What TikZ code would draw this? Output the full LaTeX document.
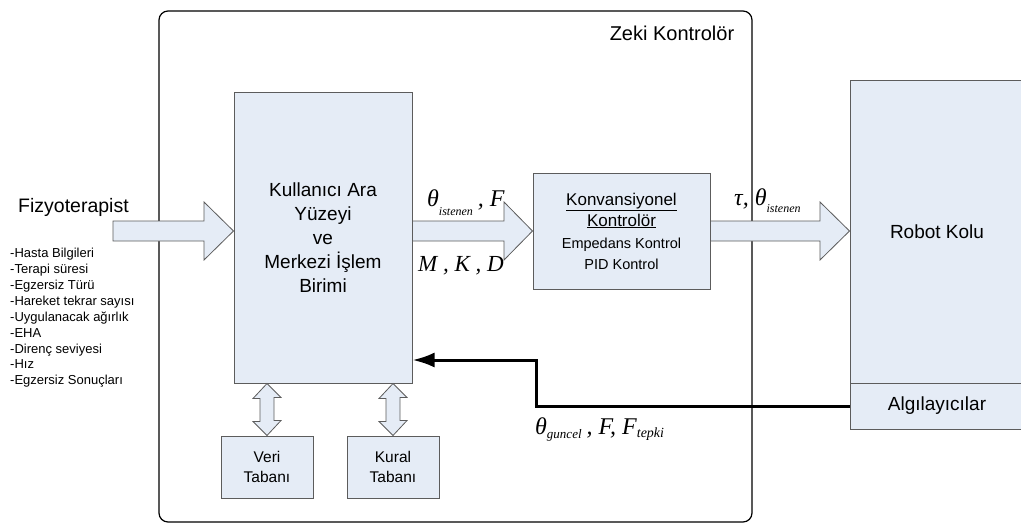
\documentclass[tikz,border=0pt]{standalone}
\usepackage{fontspec}
\setmainfont{Liberation Sans}
\newfontfamily\tms{Liberation Serif}
\usetikzlibrary{arrows.meta,calc}
\definecolor{boxfill}{HTML}{E5ECF6}
\definecolor{boxline}{HTML}{5C5C5C}
\begin{document}
\begin{tikzpicture}[x=1pt,y=-1pt,
  block/.style={draw=boxline,line width=1pt,fill=boxfill,inner sep=0pt,align=center},
  barrow/.style={draw=boxline,line width=0.8pt,fill=boxfill,line join=miter},
  bigtext/.style={font=\fontsize{19}{24}\selectfont},
  formula/.style={inner sep=0pt,font=\tms\itshape},
  feedback/.style={line width=3pt,-{Latex[length=22pt,width=15pt]}}
]
\useasboundingbox (0,0) rectangle (1021,523);
\clip (0,0) rectangle (1021,523);

% intelligent controller frame
\draw[line width=1.2pt,rounded corners=9pt] (159,11) rectangle (752,522);
\node[inner sep=0pt,font=\fontsize{20}{24}\selectfont] (zeki) at (672,33) {Zeki Kontrolör};

% physiotherapist input
\node[inner sep=0pt,anchor=west,font=\fontsize{19.5}{24}\selectfont] (fizyo) at (18,207) {Fizyoterapist};
\node[inner sep=0pt,anchor=north west,align=left,font=\fontsize{13}{15.9}\selectfont] (liste) at (10,248)
  {-Hasta Bilgileri\\-Terapi süresi\\-Egzersiz Türü\\-Hareket tekrar sayısı\\-Uygulanacak ağırlık\\-EHA\\-Direnç seviyesi\\-Hız\\-Egzersiz Sonuçları};

% blocks
\node[block,bigtext,minimum width=178pt,minimum height=291pt] (main) at (323,237.5)
  {Kullanıcı Ara\\Yüzeyi\\ve\\Merkezi İşlem\\Birimi};
\node[block,minimum width=177pt,minimum height=116pt,font=\fontsize{17}{21}\selectfont] (konv) at (621.5,231)
  {\underline{Konvansiyonel}\\\underline{Kontrolör}\\[1pt]
   {\fontsize{14.5}{16}\selectfont Empedans Kontrol}\\{\fontsize{14.5}{16}\selectfont PID Kontrol}};
\node[block,font=\fontsize{15.5}{20}\selectfont,minimum width=92pt,minimum height=62pt] (veri) at (267,467) {Veri\\Tabanı};
\node[block,font=\fontsize{15.5}{20}\selectfont,minimum width=92pt,minimum height=62pt] (kural) at (393,467) {Kural\\Tabanı};
\node[block,bigtext,minimum width=174pt,minimum height=303pt] (robot) at (937,231.5) {Robot Kolu};
\node[block,bigtext,minimum width=174pt,minimum height=46pt] (sens) at (937,406) {Algılayıcılar};

% block arrows
\draw[barrow] (113,221) -- (204,221) -- (204,202) -- (main.west |- 0,231) -- (204,260) -- (204,241) -- (113,241) -- cycle;
\draw[barrow] (main.east |- 0,221) -- (504,221) -- (504,202) -- (konv.west) -- (504,260) -- (504,241) -- (main.east |- 0,241) -- cycle;
\draw[barrow] (konv.east |- 0,221) -- (820,221) -- (820,202) -- (robot.west |- 0,231) -- (820,260) -- (820,241) -- (konv.east |- 0,241) -- cycle;

% database links
\draw[barrow] (veri.north |- main.south) -- ++(14,14) -- ++(-7,0) -- ++(0,23) -- ++(7,0) -- (veri.north) -- ++(-14,-14) -- ++(7,0) -- ++(0,-23) -- ++(-7,0) -- cycle;
\draw[barrow] (kural.north |- main.south) -- ++(14,14) -- ++(-7,0) -- ++(0,23) -- ++(7,0) -- (kural.north) -- ++(-14,-14) -- ++(7,0) -- ++(0,-23) -- ++(-7,0) -- cycle;

% sensor feedback
\coordinate (turn) at (536,360);
\draw[feedback] (sens.west) -| (turn) -- (main.east |- turn);

% signal labels
\node[formula,anchor=base west] (lab1) at (427,206)
  {\fontsize{24}{24}\selectfont θ\raisebox{-9pt}{\fontsize{12}{12}\selectfont istenen}\hspace{5pt}, F};
\node[formula,anchor=base west,font=\tms\itshape\fontsize{23}{23}\selectfont] (lab2) at (418,271) {M , K , D};
\node[formula,anchor=base west] (lab3) at (734,205)
  {\fontsize{24}{24}\selectfont τ, θ\raisebox{-7pt}{\fontsize{12}{12}\selectfont istenen}};
\node[formula,anchor=base west] (lab4) at (535,434)
  {\fontsize{24}{24}\selectfont θ\raisebox{-4pt}{\fontsize{13}{13}\selectfont guncel}\hspace{5pt}, F, F\raisebox{-3pt}{\fontsize{14}{14}\selectfont tepki}};
\end{tikzpicture}
\end{document}
